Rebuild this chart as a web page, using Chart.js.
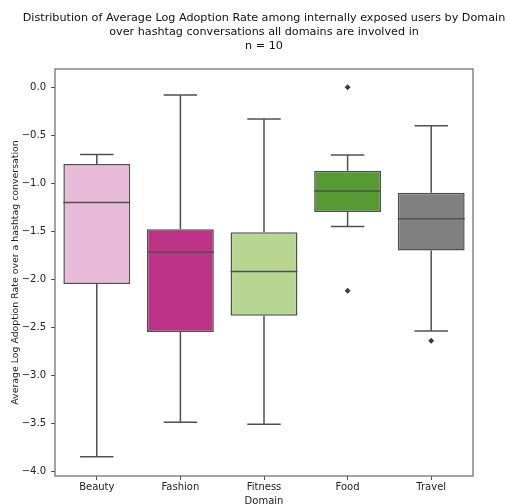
<!DOCTYPE html>
<html>
<head>
<meta charset="utf-8">
<script src="https://cdn.jsdelivr.net/npm/chart.js@4"></script>
<style>
  html, body { margin: 0; padding: 0; background: #fff; }
  #wrap { width: 508px; height: 504px; }
</style>
</head>
<body>
<div id="wrap"><canvas id="boxes"></canvas></div>
<script>
var domains = ['Beauty', 'Fashion', 'Fitness', 'Food', 'Travel'];
var whiskerLow = [-3.85, -3.49, -3.51, -1.45, -2.54];
var q1 = [-2.05, -2.55, -2.38, -1.30, -1.70];
var median = [-1.20, -1.72, -1.92, -1.08, -1.37];
var q3 = [-0.80, -1.48, -1.51, -0.87, -1.10];
var whiskerHigh = [-0.70, -0.08, -0.33, -0.705, -0.40];
var outlierDomains = ['Food', 'Food', 'Travel'];
var outlierValues = [0.0, -2.12, -2.64];
var yTicks = [0.0, -0.5, -1.0, -1.5, -2.0, -2.5, -3.0, -3.5, -4.0];

var boxColors = ['#e8bbd8', '#bb3286', '#b6d692', '#559a33', '#808080'];
var lineColor = '#505050';
var font = 'DejaVu Sans';

// whiskers, caps, medians and the axes frame
var boxLines = {
  id: 'boxLines',
  afterDatasetsDraw: function(chart) {
    var ctx = chart.ctx;
    var y = chart.scales.y;
    var bars = chart.getDatasetMeta(0).data;
    ctx.save();
    ctx.strokeStyle = lineColor;
    ctx.lineWidth = 1.5;
    bars.forEach(function(bar, i) {
      var cx = bar.x, half = bar.width / 2, cap = bar.width / 4;
      ctx.beginPath();
      ctx.moveTo(cx - half, y.getPixelForValue(median[i]));
      ctx.lineTo(cx + half, y.getPixelForValue(median[i]));
      ctx.moveTo(cx, y.getPixelForValue(q3[i]));
      ctx.lineTo(cx, y.getPixelForValue(whiskerHigh[i]));
      ctx.moveTo(cx - cap, y.getPixelForValue(whiskerHigh[i]));
      ctx.lineTo(cx + cap, y.getPixelForValue(whiskerHigh[i]));
      ctx.moveTo(cx, y.getPixelForValue(q1[i]));
      ctx.lineTo(cx, y.getPixelForValue(whiskerLow[i]));
      ctx.moveTo(cx - cap, y.getPixelForValue(whiskerLow[i]));
      ctx.lineTo(cx + cap, y.getPixelForValue(whiskerLow[i]));
      ctx.stroke();
    });
    var a = chart.chartArea;
    ctx.strokeStyle = '#666';
    ctx.lineWidth = 1.2;
    ctx.strokeRect(a.left, a.top, a.right - a.left, a.bottom - a.top);
    ctx.restore();
  }
};

new Chart(document.getElementById('boxes'), {
  type: 'bar',
  data: {
    labels: domains,
    datasets: [{
      data: domains.map(function(d, i) { return [q1[i], q3[i]]; }),
      backgroundColor: boxColors,
      borderColor: lineColor,
      borderWidth: 1.5,
      borderSkipped: false,
      categoryPercentage: 1,
      barPercentage: 0.8
    }, {
      type: 'line',
      showLine: false,
      data: outlierDomains.map(function(d, i) { return { x: d, y: outlierValues[i] }; }),
      pointStyle: 'rectRot',
      pointRadius: 3,
      backgroundColor: '#3c3c3c',
      borderColor: '#3c3c3c',
      borderWidth: 0
    }]
  },
  options: {
    responsive: true,
    maintainAspectRatio: false,
    animation: false,
    // title is centred over the plot, so shift the whole block right
    layout: { padding: { left: 20, right: 0, top: 0, bottom: 0 } },
    plugins: {
      legend: { display: false },
      tooltip: { enabled: false },
      title: {
        display: true,
        text: ['Distribution of Average Log Adoption Rate among internally exposed users by Domain',
               'over hashtag conversations all domains are involved in',
               'n = 10'],
        color: '#111',
        font: { family: font, size: 11.2, weight: 'normal', lineHeight: 1.25 },
        padding: { top: 11, bottom: 16 }
      }
    },
    scales: {
      x: {
        offset: true,
        grid: { display: true, drawOnChartArea: false, offset: false, tickLength: 4, color: '#555' },
        border: { display: false },
        ticks: { color: '#222', font: { family: font, size: 10 }, padding: 1, maxRotation: 0 },
        title: { display: true, text: 'Domain', color: '#222', font: { family: font, size: 10 }, padding: { top: 0, bottom: -3 } },
        afterFit: function(scale) { scale.height = 28; }
      },
      y: {
        min: -4.05,
        max: 0.19,
        grid: { display: true, drawOnChartArea: false, tickLength: 4, color: '#555' },
        border: { display: false },
        afterBuildTicks: function(scale) {
          scale.ticks = yTicks.map(function(v) { return { value: v }; });
        },
        ticks: {
          color: '#222',
          font: { family: font, size: 10 },
          padding: 5,
          callback: function(v) { return v.toFixed(1).replace('-', '\u2212'); }
        },
        title: {
          display: true,
          text: 'Average Log Adoption Rate over a hashtag conversation',
          color: '#222',
          font: { family: font, size: 9.4 },
          padding: -10
        },
        afterFit: function(scale) { scale.width = 35; }
      },
      gap: {
        position: 'right',
        display: true,
        grid: { display: false },
        border: { display: false },
        ticks: { display: false },
        afterFit: function(scale) { scale.width = 35; }
      }
    }
  },
  plugins: [boxLines]
});
</script>
</body>
</html>
